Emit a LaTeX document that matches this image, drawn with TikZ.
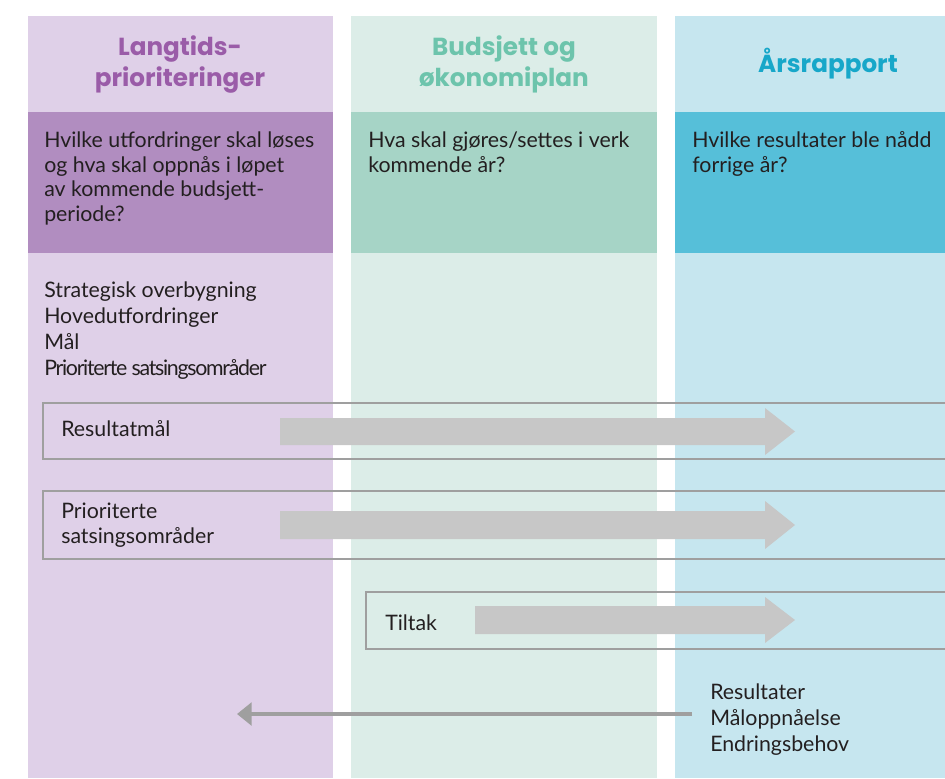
\documentclass[tikz,border=0pt]{standalone}
\usepackage{fontspec}
\setmainfont{Lato}
\newfontfamily\headfont{Poppins}
\usetikzlibrary{arrows.meta}

\definecolor{lilla}{HTML}{DFD0E8}
\definecolor{lillamork}{HTML}{B18DC0}
\definecolor{lillatekst}{HTML}{9A5CA8}
\definecolor{gronn}{HTML}{DCEDE8}
\definecolor{gronnmork}{HTML}{A6D4C6}
\definecolor{gronntekst}{HTML}{6DC4AC}
\definecolor{blaa}{HTML}{C6E6EF}
\definecolor{blaamork}{HTML}{56BFD9}
\definecolor{blaatekst}{HTML}{17A7C9}
\definecolor{pil}{HTML}{C7C7C7}
\definecolor{ramme}{HTML}{9F9F9F}
\definecolor{tekst}{HTML}{231F20}

\tikzset{
  tittel/.style={anchor=base, align=center, inner sep=0pt,
    font=\headfont\bfseries\fontsize{18.5}{23.25}\selectfont},
  brod/.style={anchor=base west, align=left, inner sep=0pt, text=tekst,
    font=\fontsize{16}{18.4}\selectfont},
  liste/.style={brod, font=\fontsize{16}{19.5}\selectfont},
  rad/.style={draw=ramme, line width=1.5pt},
  tilbake/.style={draw=ramme, line width=3pt, -{Triangle[length=11pt,width=17pt]}}
}

\begin{document}
\begin{tikzpicture}[x=0.75pt, y=-0.75pt]
\useasboundingbox (0,0) rectangle (945,778);
\clip (0,0) rectangle (945,778);

% kolonner
\fill[lilla] (28,16) rectangle (333,778);
\fill[lillamork] (28,112) rectangle (333,253);
\fill[gronn] (351,16) rectangle (657,778);
\fill[gronnmork] (351,112) rectangle (657,253);
\fill[blaa] (675,16) rectangle (960,778);
\fill[blaamork] (675,112) rectangle (960,253);

% rammer
\draw[rad] (960,403) -- (43,403) -- (43,459) -- (960,459);
\draw[rad] (960,491) -- (43,491) -- (43,559) -- (960,559);
\draw[rad] (960,592) -- (366,592) -- (366,649) -- (960,649);

% piler
\fill[pil] (280,418) -- (765,418) -- (765,408) -- (795,431.5) -- (765,455) -- (765,445) -- (280,445) -- cycle;
\fill[pil] (280,511) -- (765,511) -- (765,501) -- (795,525) -- (765,549) -- (765,539) -- (280,539) -- cycle;
\fill[pil] (475,606) -- (765,606) -- (765,597) -- (795,620) -- (765,643) -- (765,634) -- (475,634) -- cycle;

% overskrifter (base = siste linje)
\node[tittel, text=lillatekst] (lang) at (180,86) {Langtids-\\prioriteringer};
\node[tittel, text=gronntekst] (budsjett) at (504,86) {Budsjett og\\økonomiplan};
\node[tittel, text=blaatekst] (aars) at (828,72) {Årsrapport};

% spoersmaal
\node[brod] (q1) at (44,221.5) {Hvilke utfordringer skal løses\\og hva skal oppnås i løpet\\av kommende budsjett-\\periode?};
\node[brod] (q2) at (368,172.5) {Hva skal gjøres/settes i verk\\kommende år?};
\node[brod] (q3) at (692,172.5) {Hvilke resultater ble nådd\\forrige år?};

% innhold
\node[liste] (liste) at (44,375) {Strategisk overbygning\\Hovedutfordringer\\Mål\\{\addfontfeatures{LetterSpace=-6}Prioriterte satsingsområder}};
\node[brod] (resmaal) at (61,436) {Resultatmål};
\node[brod] (prio) at (61,543) {Prioriterte\\satsingsområder};
\node[brod] (tiltak) at (385,630) {Tiltak};
\node[liste] (res) at (710,751) {Resultater\\Måloppnåelse\\Endringsbehov};

\coordinate (tilbakepil) at (237,714);
\draw[tilbake] (res.west |- tilbakepil) ++(-18,0) -- (tilbakepil);
\end{tikzpicture}
\end{document}
